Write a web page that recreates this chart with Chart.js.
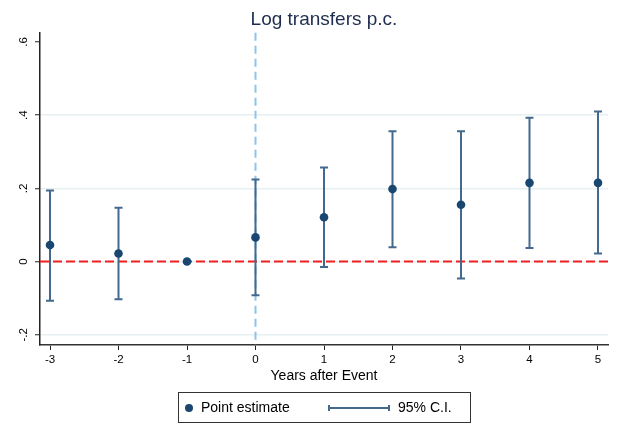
<!DOCTYPE html>
<html>
<head>
<meta charset="utf-8">
<title>Log transfers p.c.</title>
<script src="https://cdn.jsdelivr.net/npm/chart.js@4"></script>
<style>
  html, body { margin: 0; padding: 0; background: #fff; }
  #wrap { width: 619px; height: 423px; position: relative; }
</style>
</head>
<body>
<div id="wrap"><canvas id="chart"></canvas></div>
<script>
// event-study estimates, one per year relative to the event
const years = [-3, -2, -1, 0, 1, 2, 3, 4, 5];
const estimates = [0.045, 0.022, 0, 0.066, 0.121, 0.198, 0.155, 0.215, 0.215];
const ciLow = [-0.107, -0.103, 0, -0.092, -0.015, 0.039, -0.046, 0.037, 0.022];
const ciHigh = [0.194, 0.147, 0, 0.224, 0.257, 0.356, 0.356, 0.393, 0.41];

const yTicks = [-0.2, 0, 0.2, 0.4, 0.6];
const yTickLabels = ['-.2', '0', '.2', '.4', '.6'];
const xTicks = [-3, -2, -1, 0, 1, 2, 3, 4, 5];
const legendLabels = ['Point estimate', '95% C.I.'];

const NAVY = '#1a476f';
const CI_COLOR = '#44698e';
const FONT = '"Liberation Sans", Arial, Helvetica, sans-serif';

// reference lines, error bars and the boxed legend
const extras = {
  id: 'extras',
  beforeDatasetsDraw(chart) {
    const {ctx, chartArea: a, scales: {x, y}} = chart;
    ctx.save();
    // event year marker
    const x0 = x.getPixelForValue(0);
    ctx.strokeStyle = '#8ec4ea';
    ctx.lineWidth = 2;
    ctx.setLineDash([8, 5]);
    ctx.beginPath();
    ctx.moveTo(x0, a.top);
    ctx.lineTo(x0, a.bottom);
    ctx.stroke();
    // zero line
    const y0 = y.getPixelForValue(0);
    ctx.strokeStyle = '#f02020';
    ctx.setLineDash([9, 4]);
    ctx.beginPath();
    ctx.moveTo(a.left, y0);
    ctx.lineTo(a.right, y0);
    ctx.stroke();
    ctx.setLineDash([]);
    // confidence intervals
    ctx.strokeStyle = CI_COLOR;
    ctx.lineWidth = 2;
    years.forEach((yr, i) => {
      if (ciLow[i] === ciHigh[i]) return;
      const px = x.getPixelForValue(yr);
      const lo = y.getPixelForValue(ciLow[i]);
      const hi = y.getPixelForValue(ciHigh[i]);
      ctx.beginPath();
      ctx.moveTo(px, lo);
      ctx.lineTo(px, hi);
      ctx.moveTo(px - 4, lo);
      ctx.lineTo(px + 4, lo);
      ctx.moveTo(px - 4, hi);
      ctx.lineTo(px + 4, hi);
      ctx.stroke();
    });
    ctx.restore();
  },
  afterDraw(chart) {
    const {ctx} = chart;
    ctx.save();
    ctx.strokeStyle = '#333';
    ctx.lineWidth = 1;
    ctx.strokeRect(178.5, 392.5, 292, 30);
    const cy = 408;
    ctx.fillStyle = NAVY;
    ctx.beginPath();
    ctx.arc(189, cy, 4, 0, Math.PI * 2);
    ctx.fill();
    ctx.strokeStyle = CI_COLOR;
    ctx.lineWidth = 2;
    ctx.beginPath();
    ctx.moveTo(329, cy);
    ctx.lineTo(389, cy);
    ctx.moveTo(329, cy - 3);
    ctx.lineTo(329, cy + 3);
    ctx.moveTo(389, cy - 3);
    ctx.lineTo(389, cy + 3);
    ctx.stroke();
    ctx.fillStyle = '#000';
    ctx.font = '14px ' + FONT;
    ctx.textBaseline = 'middle';
    ctx.fillText(legendLabels[0], 201, cy);
    ctx.fillText(legendLabels[1], 398, cy);
    ctx.restore();
  }
};

new Chart(document.getElementById('chart'), {
  type: 'scatter',
  data: {
    datasets: [{
      label: legendLabels[0],
      data: years.map((yr, i) => ({x: yr, y: estimates[i]})),
      backgroundColor: NAVY,
      borderColor: NAVY,
      pointRadius: 4.3,
      pointHoverRadius: 4.3,
      borderWidth: 0
    }]
  },
  options: {
    responsive: true,
    maintainAspectRatio: false,
    animation: false,
    layout: { padding: { left: 0, right: 11, top: 0, bottom: 38 } },
    plugins: {
      legend: { display: false },
      tooltip: { enabled: false },
      title: {
        display: true,
        text: 'Log transfers p.c.',
        fullSize: false,
        color: '#1e2d4f',
        font: { family: FONT, size: 19, weight: 'normal' },
        padding: { top: 8, bottom: 2 }
      }
    },
    scales: {
      x: {
        type: 'linear',
        min: -3.146,
        max: 5.146,
        afterBuildTicks: s => { s.ticks = xTicks.map(v => ({value: v})); },
        afterFit: s => { s.height = 40; },
        ticks: {
          color: '#000',
          font: { family: FONT, size: 11.5 },
          padding: 3,
          callback: v => String(v)
        },
        grid: { drawOnChartArea: false, tickLength: 5, tickColor: '#222', tickWidth: 1 },
        border: { color: '#333', width: 1.5 },
        title: {
          display: true,
          text: 'Years after Event',
          color: '#000',
          font: { family: FONT, size: 14 },
          padding: { top: 0, bottom: 0 }
        }
      },
      y: {
        min: -0.228,
        max: 0.625,
        afterBuildTicks: s => { s.ticks = yTicks.map(v => ({value: v})); },
        afterFit: s => { s.width = 40; },
        ticks: {
          color: '#000',
          font: { family: FONT, size: 11.5 },
          minRotation: 90,
          maxRotation: 90,
          crossAlign: 'center',
          padding: 4,
          callback: v => yTickLabels[yTicks.indexOf(v)]
        },
        grid: {
          color: c => (c.tick && c.tick.value === 0.6 ? 'rgba(0,0,0,0)' : '#e6eff2'),
          lineWidth: 1.5,
          tickLength: 5,
          tickColor: '#222',
          tickWidth: 1
        },
        border: { color: '#222', width: 1.5 }
      }
    }
  },
  plugins: [extras]
});
</script>
</body>
</html>
